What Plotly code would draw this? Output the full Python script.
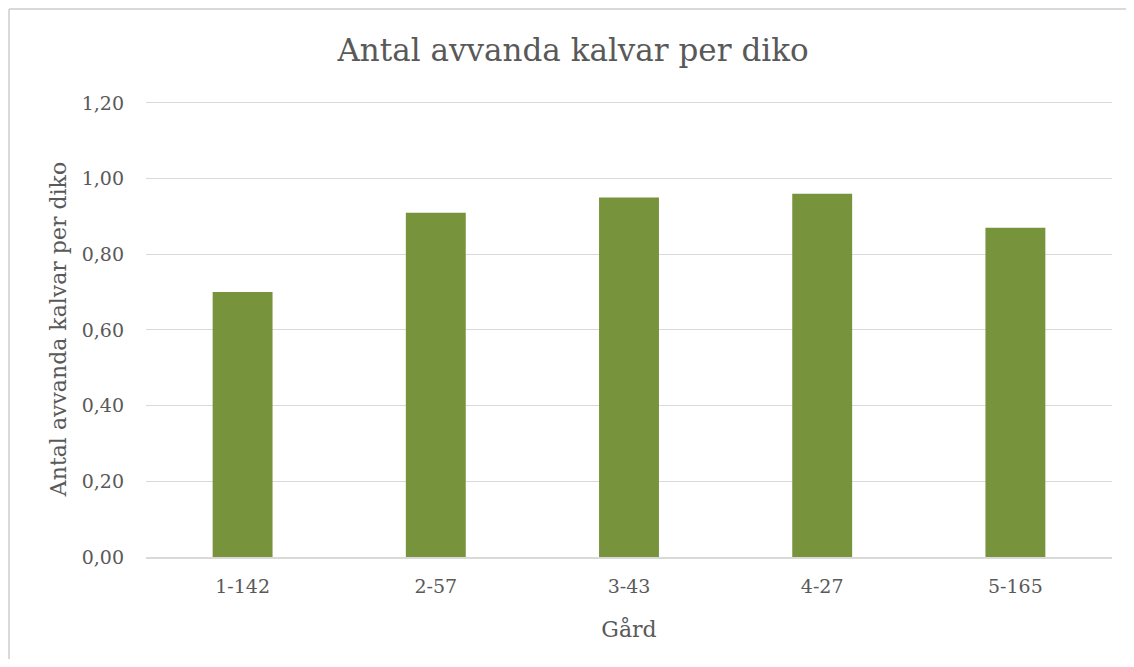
import plotly.graph_objects as go

gardar = ["1-142", "2-57", "3-43", "4-27", "5-165"]
kalvar_per_diko = [0.70, 0.91, 0.95, 0.96, 0.87]
y_ticks = [0.0, 0.2, 0.4, 0.6, 0.8, 1.0, 1.2]
y_tick_labels = ["0,00", "0,20", "0,40", "0,60", "0,80", "1,00", "1,20"]

font_name = "DejaVu Serif"
grey = "#595959"
border = "#D9D9D9"

fig = go.Figure(
    go.Bar(
        x=gardar,
        y=kalvar_per_diko,
        marker_color="#77933C",
        marker_line_width=0,
        width=0.31,
    )
)

# page body has an 8px margin, so the figure is kept 16px smaller to avoid scrollbars
fig.update_layout(
    width=1118,
    height=651,
    title=dict(
        text="Antal avvanda kalvar per diko",
        x=0.5054,
        xanchor="center",
        y=0.9355,
        yanchor="middle",
        font=dict(family=font_name, size=31, color=grey),
    ),
    font=dict(family=font_name, color=grey),
    paper_bgcolor="white",
    plot_bgcolor="white",
    margin=dict(t=93, b=102, l=138, r=14),
    showlegend=False,
)

fig.update_xaxes(
    title=dict(text="Gård", font=dict(size=22, color=grey), standoff=26),
    tickfont=dict(size=19, color=grey),
    showline=True,
    linecolor=border,
    linewidth=1.5,
    ticks="",
    ticklabelstandoff=11,
)

fig.update_yaxes(
    title=dict(text="Antal avvanda kalvar per diko", font=dict(size=22, color=grey), standoff=8),
    tickvals=y_ticks,
    ticktext=y_tick_labels,
    tickfont=dict(size=19, color=grey),
    range=[0, 1.205],
    showgrid=True,
    gridcolor=border,
    gridwidth=1,
    zeroline=False,
    ticks="",
    ticklabelstandoff=21,
)

# chart-area border: only the top and left edges are visible in the original
fig.add_shape(
    type="line", xref="paper", yref="paper",
    x0=-0.1418, x1=1.5, y0=1.2018, y1=1.2018,
    line=dict(color=border, width=2),
    layer="below",
)
fig.add_shape(
    type="line", xref="paper", yref="paper",
    x0=-0.1418, x1=-0.1418, y0=-1.0, y1=1.2018,
    line=dict(color=border, width=2),
    layer="below",
)

fig.write_html("out.html")
